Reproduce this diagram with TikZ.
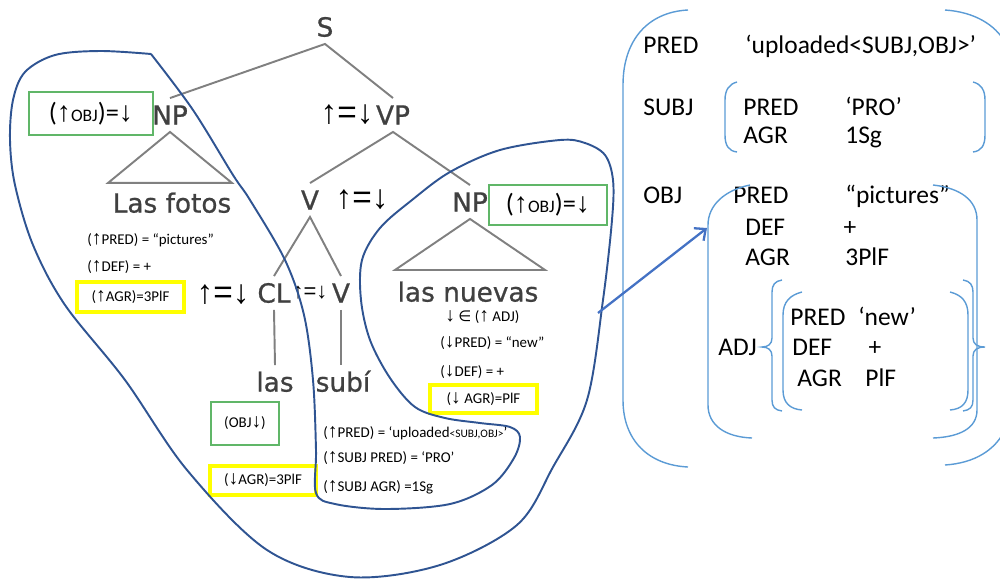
\documentclass[tikz,border=0pt]{standalone}
\usepackage{fontspec}
\setmainfont{Carlito}
\newfontfamily\treefont{DejaVu Sans}[FakeBold=0.8]
\newfontfamily\arrfont{Liberation Sans}
\newfontfamily\annarrfont{Liberation Sans}[Scale=1.3]
\newfontfamily\elemfont{DejaVu Sans}
\usetikzlibrary{arrows.meta}
\definecolor{lfgloop}{RGB}{47,84,146}
\definecolor{lfgarrow}{RGB}{68,114,196}
\definecolor{lfgbrack}{RGB}{91,155,213}
\definecolor{lfggreen}{RGB}{96,182,104}
\definecolor{lfgyellow}{RGB}{255,255,0}
\definecolor{lfgtree}{RGB}{64,64,64}
\definecolor{lfgbranch}{RGB}{128,128,128}
\newcommand{\UpA}{{\annarrfont ↑}}
\newcommand{\DnA}{{\annarrfont ↓}}
\newcommand{\ObjEq}{{\fontsize{15}{18}\selectfont(}{\arrfont\fontsize{16}{18}\selectfont↑}{\fontsize{10}{12}\selectfont OBJ}{\fontsize{15}{18}\selectfont)=}{\arrfont\fontsize{16}{18}\selectfont↓}}

\begin{document}
\begin{tikzpicture}[x=0.2mm, y=-0.2mm,
  cat/.style={font=\treefont\fontsize{15}{18}\selectfont, text=lfgtree, inner sep=4pt, text height=10.9pt, text depth=0pt},
  eqn/.style={font=\arrfont\fontsize{19}{21}\selectfont, inner sep=0pt},
  branch/.style={lfgbranch, line width=1.1pt},
  ann/.style={font=\fontsize{8.5}{10}\selectfont, anchor=west, inner sep=0pt, text height=5.5pt, text depth=0pt},
  fs/.style={font=\fontsize{14.5}{17}\selectfont, anchor=west, inner sep=0pt, text height=9.3pt, text depth=0pt},
  greenbox/.style={draw=lfggreen, line width=1.5pt, inner sep=0pt},
  yellowbox/.style={draw=lfgyellow, line width=2.2pt, inner sep=0pt, font=\fontsize{8.5}{10}\selectfont},
  fdomain/.style={lfgloop, line width=1.1pt},
  fbr/.style={lfgbrack, line width=0.8pt},
  maparrow/.style={lfgarrow, line width=1.3pt, -{Straight Barb[length=5pt,width=9pt]}}]
\useasboundingbox (0,0) rectangle (1000,579);

% c-structure
\node[cat] (s) at (325,27) {S};
\node[cat] (np1) at (170,115) {NP};
\node[greenbox, minimum width=24.8mm, minimum height=8.6mm] (np1obj) at (91,113.5) {\ObjEq};
\node[eqn] (vpeq) at (347,115) {↑=↓};
\node[cat] (vp) at (393,115) {VP};
\node[cat] (fotos) at (172,203) {Las fotos};
\node[cat] (v1) at (310,200) {V};
\node[eqn] (v1eq) at (362,200) {↑=↓};
\node[cat] (np2) at (470,202) {NP};
\node[greenbox, minimum width=23.6mm, minimum height=8mm] (np2obj) at (548,205) {\ObjEq};
\node[cat] (nuevas) at (468,292) {las nuevas};
\node[eqn] (cleq) at (223,295) {↑=↓};
\node[cat] (cl) at (274,293) {CL};
\node[eqn, font=\arrfont\fontsize{12.5}{14}\selectfont] (v2eq) at (310,293) {↑=↓};
\node[cat] (v2) at (341,293) {V};
\node[cat] (las) at (275,382) {las};
\node[cat] (subi) at (343,382) {subí};

\draw[branch] (np1.north) -- (s.south) -- (vp.north);
\draw[branch] (v1.north) -- (vp.south) -- (np2.north);
\draw[branch] (cl.north) -- (v1.south) -- (v2.north);
\draw[branch] (cl.south) -- (las.north);
\draw[branch] (v2.south) -- (v2.south |- subi.north);
\draw[branch] (np1.south) -- ++(-62,51) -- ++(124,0) -- cycle;
\draw[branch] (np2.south) -- ++(-75,51) -- ++(150,0) -- cycle;

% annotations
\node[ann] (fotospred) at (87,240) {(\UpA PRED) = “pictures”};
\node[ann] (fotosdef) at (87,267) {(\UpA DEF) = +};
\node[yellowbox, minimum width=21.4mm, minimum height=6mm] (fotosagr) at (130.5,297) {(\UpA AGR)=3PlF};
\node[ann] (adjin) at (445,317) {\DnA\ {\elemfont ∈} (\UpA\ ADJ)};
\node[ann] (nuevaspred) at (440,343) {(\DnA PRED) = “new”};
\node[ann] (nuevasdef) at (440,372) {(\DnA DEF) = +};
\node[yellowbox, minimum width=21.4mm, minimum height=5.6mm] (nuevasagr) at (483.5,399) {(\DnA\ AGR)=PlF};
\node[greenbox, minimum width=13.6mm, minimum height=8.6mm, font=\fontsize{8.5}{10}\selectfont] (clobj) at (245,423.5) {(OBJ\DnA)};
\node[yellowbox, minimum width=21.2mm, minimum height=5.8mm] (clagr) at (263,480.5) {(\DnA AGR)=3PlF};
\node[ann] (subipred) at (323,433) {(\UpA PRED) = ‘uploaded{\fontsize{6.5}{8}\selectfont<SUBJ,OBJ>}’};
\node[ann] (subisubj) at (323,458) {(\UpA SUBJ PRED) = ‘PRO’};
\node[ann] (subiagr) at (323,487) {(\UpA SUBJ AGR) =1Sg};

% domain outline
\draw[fdomain] plot[smooth, tension=0.55] coordinates {(151,54) (100,51) (55,55) (25,72) (13,100) (10,140) (15,185) (33,245) (65,305) (125,380) (187,470) (267,550) (350,577) (440,565) (517,525) (553,467) (587,400) (603,300) (612,220) (613,180) (605,155) (585,143) (560,140) (500,150) (450,172) (412,200) (380,228) (362,260) (361,300) (370,340) (390,378) (415,407) (445,418) (480,423) (510,427) (520,437) (514,458) (492,485) (450,504) (385,509) (335,504) (316,493) (316,450) (313,380) (304,315) (285,260) (250,200) (233,175) (193,110) (151,54)};

% f-structure
\node[fs] (fpred) at (643,45) {PRED};
\node[fs] (fpredv) at (745,45) {‘uploaded<SUBJ,OBJ>’};
\node[fs] (fsubj) at (643,107) {SUBJ};
\node[fs] (subjpred) at (743,107) {PRED};
\node[fs] (subjpredv) at (845,107) {‘PRO’};
\node[fs] (subjagr) at (743,135) {AGR};
\node[fs] (subjagrv) at (845,135) {1Sg};
\node[fs] (fobj) at (643,195) {OBJ};
\node[fs] (objpred) at (733,195) {PRED};
\node[fs] (objpredv) at (845,195) {“pictures”};
\node[fs] (objdef) at (745,227) {DEF};
\node[fs, anchor=center] (objdefv) at (850,227) {+};
\node[fs] (objagr) at (745,257) {AGR};
\node[fs] (objagrv) at (845,257) {3PlF};
\node[fs] (fadj) at (718,347) {ADJ};
\node[fs] (adjpred) at (790,317) {PRED};
\node[fs] (adjpredv) at (858,317) {‘new’};
\node[fs] (adjdef) at (792,347) {DEF};
\node[fs, anchor=center] (adjdefv) at (875,347) {+};
\node[fs] (adjagr) at (797,378) {AGR};
\node[fs] (adjagrv) at (865,378) {PlF};

% brackets
\draw[fbr] (688,10) .. controls (648,12) and (623,40) .. (623,85) -- (623,400) .. controls (623,440) and (648,465) .. (688,467);
\draw[fbr] (945,10) .. controls (975,12) and (995,25) .. (1005,42);
\draw[fbr] (945,465) .. controls (975,463) and (995,450) .. (1005,430);
\draw[fbr] (737,82) .. controls (729,84) and (725,90) .. (725,100) -- (725,135) .. controls (725,146) and (729,151) .. (737,152);
\draw[fbr] (973,82) .. controls (981,84) and (985,90) .. (985,100) -- (985,135) .. controls (985,146) and (981,151) .. (973,152);
\draw[fbr] (750,185) .. controls (725,190) and (708,205) .. (708,225) -- (708,405) .. controls (708,425) and (725,437) .. (752,438);
\draw[fbr] (933,185) .. controls (960,188) and (977,200) .. (977,220) -- (977,410) .. controls (977,428) and (960,437) .. (933,438);
\draw[fbr] (802,292) .. controls (790,295) and (783,302) .. (783,315) -- (783,390) .. controls (783,403) and (790,409) .. (802,410);
\draw[fbr] (950,292) .. controls (962,295) and (968,302) .. (968,315) -- (968,390) .. controls (968,403) and (962,409) .. (950,410);
\draw[fbr] (782,280) .. controls (775,281) and (772,285) .. (772,292) -- (772,338) .. controls (772,344) and (768,347) .. (762,347) .. controls (768,347) and (772,350) .. (772,356) -- (772,400) .. controls (772,407) and (775,410) .. (782,411);
\draw[fbr] (963,280) .. controls (970,281) and (973,285) .. (973,292) -- (973,338) .. controls (973,344) and (977,347) .. (985,347) .. controls (977,347) and (973,350) .. (973,356) -- (973,400) .. controls (973,407) and (970,410) .. (963,411);

% mapping arrow
\coordinate (npexit) at (598,313);
\coordinate (objentry) at (707,228);
\draw[maparrow] (npexit) -- (objentry);
\end{tikzpicture}
\end{document}
